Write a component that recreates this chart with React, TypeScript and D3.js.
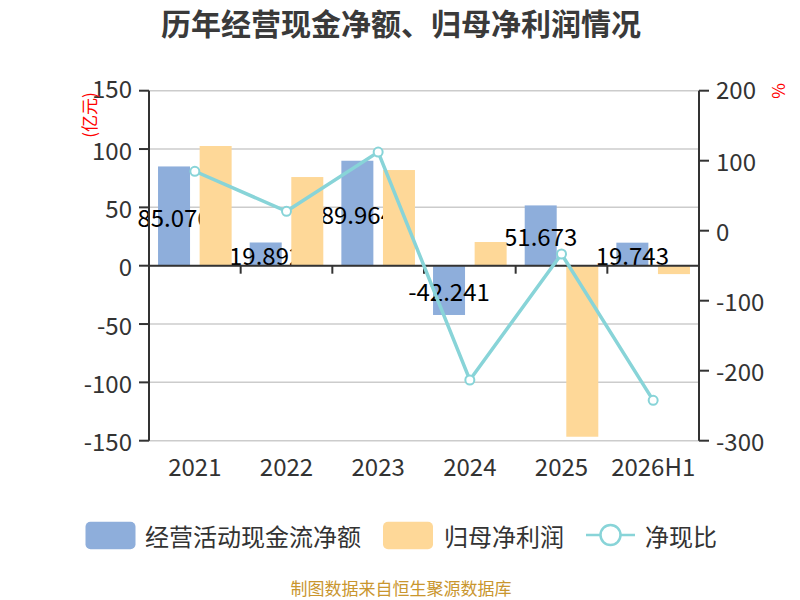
import React from "react";
import * as d3 from "d3";

const categories = ["2021", "2022", "2023", "2024", "2025", "2026H1"];
const cashFlow = [85.076, 19.892, 89.964, -42.241, 51.673, 19.743];
const netProfit = [102.6, 76.0, 82.0, 20.3, -146.6, -7.2];
const cashRatio = [84.9, 27.7, 112.4, -213.3, -33.3, -242.3];
const leftTicks = [150, 100, 50, 0, -50, -100, -150];
const rightTicks = [200, 100, 0, -100, -200, -300];

const FONT = "'Noto Sans CJK SC', 'Noto Sans', sans-serif";
const BLUE = "#8eaedb";
const ORANGE = "#fed898";
const TEAL = "#88d4d8";
const AXIS = "#333";

export default function App() {
  const W = 800, H = 600;
  const left = 149, right = 699, top = 90.7, bottom = 440.7;
  const x = d3.scaleBand<string>().domain(categories).range([left, right]);
  const yL = d3.scaleLinear().domain([-150, 150]).range([bottom, top]);
  const yR = d3.scaleLinear().domain([-300, 200]).range([bottom, top]);
  const bw = 32;
  const off = 20.8;
  const cx = (c: string) => (x(c) as number) + x.bandwidth() / 2;
  const line = d3
    .line<number>()
    .x((_, i) => cx(categories[i]))
    .y((d) => yR(d));
  const zero = yL(0);

  return (
    <svg width={W} height={H} style={{ display: "block", position: "absolute", left: 0, top: 0 }} fontFamily={FONT}>
      <rect width={W} height={H} fill="#fff" />
      <text x={401} y={22} textAnchor="middle" dominantBaseline="central" fontSize={30} fontWeight="bold" fill="#3a3a3a">
        历年经营现金净额、归母净利润情况
      </text>

      {/* grid */}
      {leftTicks.map((t) => (
        <line key={"g" + t} x1={left} x2={right} y1={yL(t)} y2={yL(t)} stroke="#cccccc" strokeWidth={1.5} />
      ))}

      {/* blue bars */}
      {categories.map((c, i) => (
        <rect
          key={"b" + c}
          x={cx(c) - off - bw / 2}
          width={bw}
          y={Math.min(yL(cashFlow[i]), zero)}
          height={Math.abs(yL(cashFlow[i]) - zero)}
          fill={BLUE}
        />
      ))}
      {categories.map((c, i) => (
        <text
          key={"bl" + c}
          x={cx(c) - off}
          y={(yL(cashFlow[i]) + zero) / 2}
          textAnchor="middle"
          dominantBaseline="central"
          fontSize={24}
          fill="#000"
        >
          {String(cashFlow[i])}
        </text>
      ))}

      {/* orange bars */}
      {categories.map((c, i) => (
        <rect
          key={"o" + c}
          x={cx(c) + off - bw / 2}
          width={bw}
          y={Math.min(yL(netProfit[i]), zero)}
          height={Math.abs(yL(netProfit[i]) - zero)}
          fill={ORANGE}
        />
      ))}

      {/* left axis */}
      <line x1={left} x2={left} y1={top} y2={bottom} stroke={AXIS} strokeWidth={2} />
      {leftTicks.map((t) => (
        <g key={"lt" + t}>
          <line x1={left - 10} x2={left} y1={yL(t)} y2={yL(t)} stroke={AXIS} strokeWidth={2} />
          <text x={132} y={yL(t) - (t === 150 ? 3 : 0)} textAnchor="end" dominantBaseline="central" fontSize={24} fill="#333">
            {t}
          </text>
        </g>
      ))}
      {/* right axis */}
      <line x1={right} x2={right} y1={top} y2={bottom} stroke={AXIS} strokeWidth={2} />
      {rightTicks.map((t) => (
        <g key={"rt" + t}>
          <line x1={right} x2={right + 10} y1={yR(t)} y2={yR(t)} stroke={AXIS} strokeWidth={2} />
          <text x={716} y={yR(t) - (t === 200 ? 2 : 0)} textAnchor="start" dominantBaseline="central" fontSize={24} fill="#333">
            {t}
          </text>
        </g>
      ))}
      {/* x axis on zero */}
      <line x1={left} x2={right} y1={zero} y2={zero} stroke={AXIS} strokeWidth={2} />
      {categories.slice(1).map((c) => (
        <line key={"xt" + c} x1={x(c) as number} x2={x(c) as number} y1={zero} y2={zero + 8} stroke={AXIS} strokeWidth={2} />
      ))}
      {categories.map((c) => (
        <text key={"xl" + c} x={cx(c)} y={465} textAnchor="middle" dominantBaseline="central" fontSize={24} fill="#333">
          {c}
        </text>
      ))}

      {/* units */}
      <text
        transform={`translate(88,115) rotate(-90)`}
        textAnchor="middle"
        dominantBaseline="central"
        fontSize={17}
        fill="#ff0000"
      >
        (亿元)
      </text>
      <text transform={`translate(777,91) rotate(-90)`} textAnchor="middle" dominantBaseline="central" fontSize={17} fill="#ff0000">
        %
      </text>

      {/* line */}
      <path d={line(cashRatio) || ""} fill="none" stroke={TEAL} strokeWidth={3.5} />
      {cashRatio.map((v, i) => (
        <circle key={"m" + i} cx={cx(categories[i])} cy={yR(v)} r={4.5} fill="#fff" stroke={TEAL} strokeWidth={2} />
      ))}

      {/* legend */}
      <rect x={85.5} y={521.7} width={50} height={27.6} rx={5} fill={BLUE} />
      <text x={145} y={535} dominantBaseline="central" fontSize={24} fill="#333">
        经营活动现金流净额
      </text>
      <rect x={383} y={521.7} width={50} height={27.6} rx={5} fill={ORANGE} />
      <text x={444} y={535} dominantBaseline="central" fontSize={24} fill="#333">
        归母净利润
      </text>
      <line x1={586} x2={635} y1={535} y2={535} stroke={TEAL} strokeWidth={2.5} />
      <circle cx={610.5} cy={535} r={10} fill="#fff" stroke={TEAL} strokeWidth={2.5} />
      <text x={645} y={535} dominantBaseline="central" fontSize={24} fill="#333">
        净现比
      </text>

      <text x={401} y={587} textAnchor="middle" dominantBaseline="central" fontSize={17} fill="#c9962e">
        制图数据来自恒生聚源数据库
      </text>
    </svg>
  );
}
